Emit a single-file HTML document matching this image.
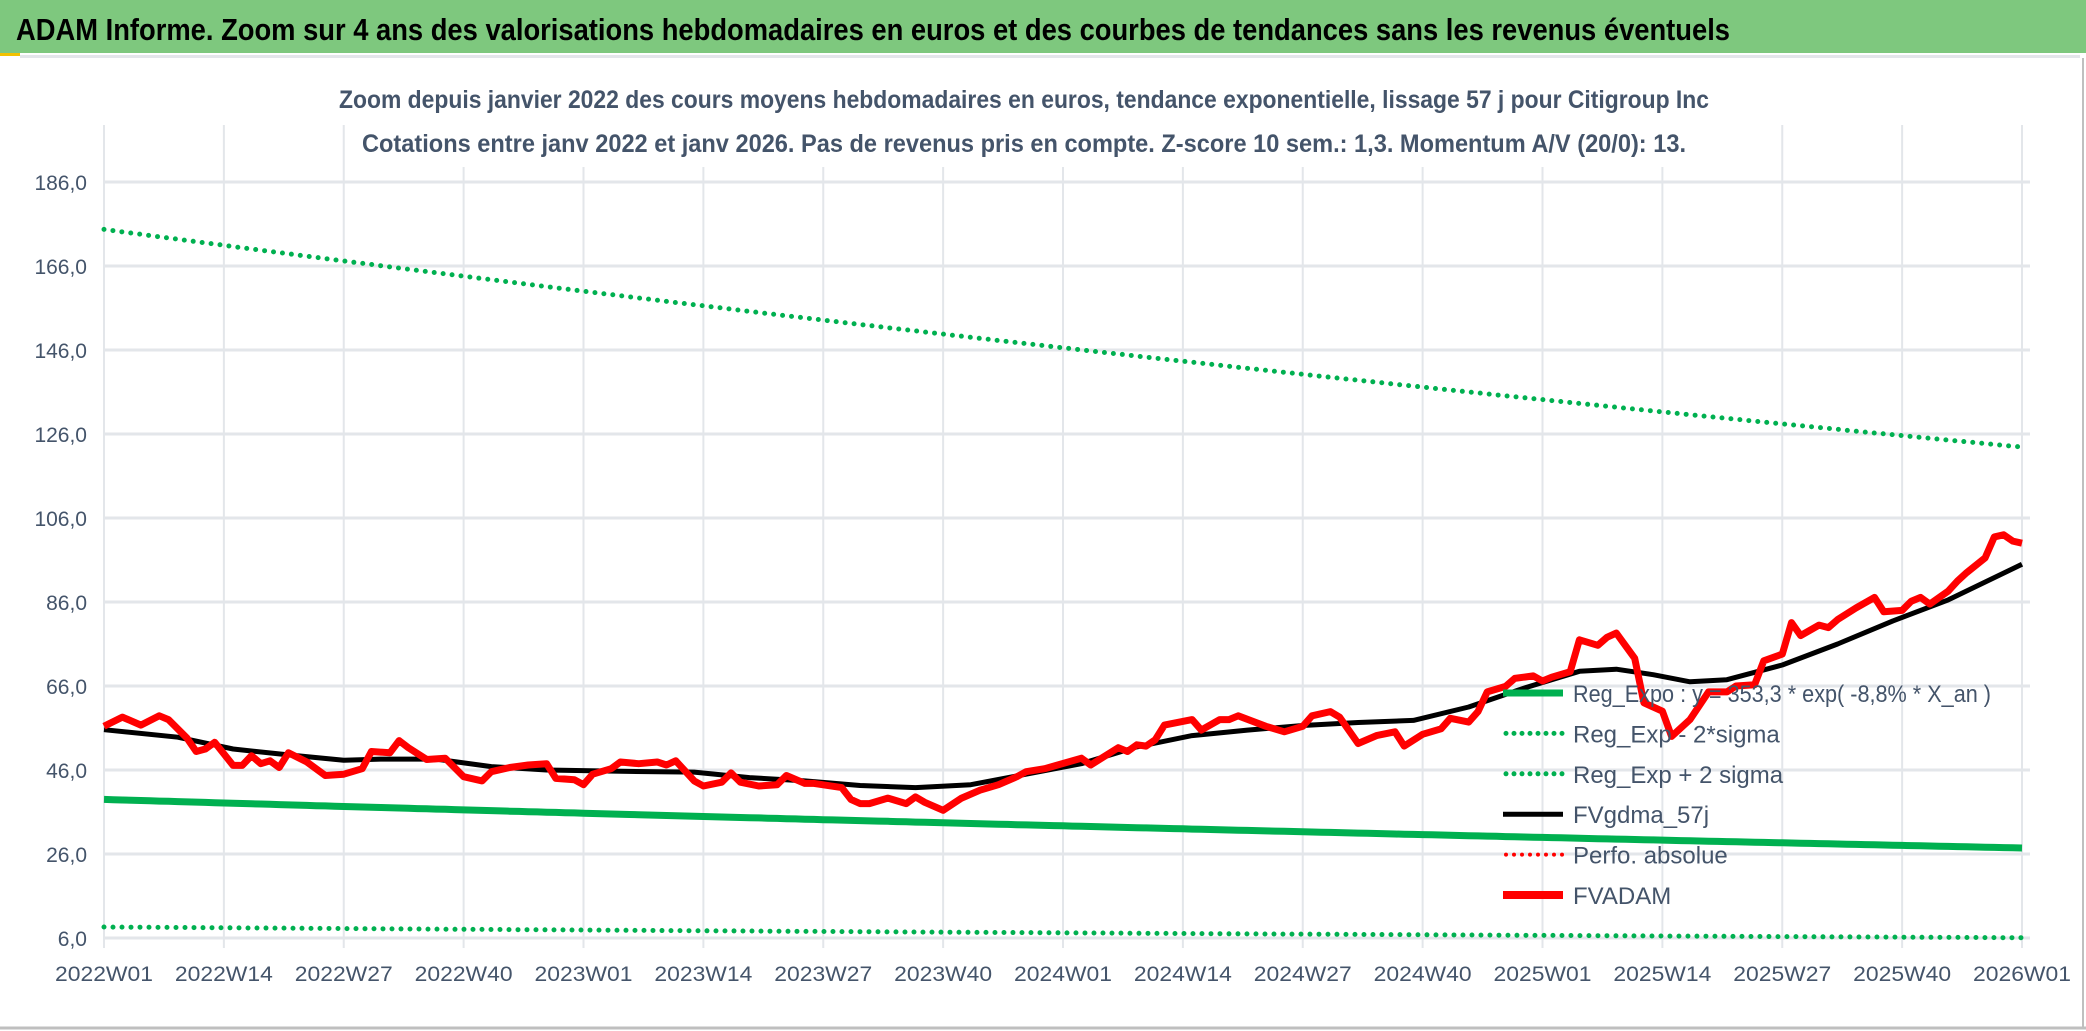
<!DOCTYPE html>
<html><head><meta charset="utf-8"><style>
html,body{margin:0;padding:0;background:#fff;}
svg{display:block;font-family:"Liberation Sans",sans-serif;}
</style></head><body>
<svg id="chart" width="2086" height="1031" viewBox="0 0 2086 1031" xmlns="http://www.w3.org/2000/svg">
<rect x="0" y="0" width="2086" height="1031" fill="#fff"/>
<rect x="0" y="0" width="2086" height="53" fill="#7ec87e"/>
<rect x="0" y="53" width="20" height="3" fill="#f2c100"/>
<rect x="20" y="55" width="2060" height="3" fill="#e3e6ea"/>
<line x1="2083" y1="58" x2="2083" y2="1028" stroke="#bfbfbf" stroke-width="2"/>
<line x1="0" y1="1028" x2="2086" y2="1028" stroke="#bfbfbf" stroke-width="3"/>
<text x="16" y="40" font-size="31" font-weight="bold" fill="#000" textLength="1714" lengthAdjust="spacingAndGlyphs">ADAM Informe. Zoom sur 4 ans des valorisations hebdomadaires en euros et des courbes de tendances sans les revenus éventuels</text>
<g id="grid"></g>
<rect x="335" y="78" width="1378" height="45" fill="#fff"/>
<rect x="358" y="120" width="1332" height="47" fill="#fff"/>
<text x="339" y="108" font-size="25" font-weight="bold" fill="#44546a" textLength="1370" lengthAdjust="spacingAndGlyphs">Zoom depuis janvier 2022 des cours moyens hebdomadaires en euros, tendance exponentielle, lissage 57 j pour Citigroup Inc</text>
<text x="362" y="152" font-size="25" font-weight="bold" fill="#44546a" textLength="1324" lengthAdjust="spacingAndGlyphs">Cotations entre janv 2022 et janv 2026. Pas de revenus pris en compte. Z-score 10 sem.: 1,3. Momentum A/V (20/0): 13.</text>
<g id="axes"></g>
<g id="series"></g>
<g id="legend"></g>
</svg>
<script>
const yTicks = [6,26,46,66,86,106,126,146,166,186];
const xLabels = ["2022W01","2022W14","2022W27","2022W40","2023W01","2023W14","2023W27","2023W40","2024W01","2024W14","2024W27","2024W40","2025W01","2025W14","2025W27","2025W40","2026W01"];
const regA = 39.0;
const regRate = -0.088;
const sigmaUp = 4.48;
const sigmaDn = 0.221;
const redWeeks = [0,2,4,6,7,9,10,11,12,14,15,16,17,18,19,20,22,24,26,28,29,31,32,33,35,37,39,41,42,44,46,48,49,51,52,53,55,56,58,60,61,62,64,65,67,68,69,71,73,74,76,77,80,81,82,83,85,87,88,89,91,93,95,97,99,100,102,106,107,110,111,112,113,114,115,118,119,121,122,123,126,128,130,131,133,134,136,138,140,141,143,145,146,148,149,150,152,153,155,156,157,159,160,162,163,164,166,167,169,170,172,174,176,177,179,180,182,183,184,186,187,188,190,192,193,195,196,197,198,200,201,202,204,205,206,207,208];
const redValues = [56.4,58.6,56.7,58.9,58.0,53.6,50.4,51.0,52.6,47.1,47.1,49.4,47.5,48.2,46.6,50.1,47.9,44.7,45.0,46.3,50.4,50.1,53.0,51.3,48.5,48.8,44.4,43.4,45.6,46.6,47.2,47.5,44.0,43.7,42.5,45.0,46.3,47.9,47.5,47.9,47.2,48.2,43.4,42.2,43.1,45.3,43.1,42.2,42.5,44.7,42.8,42.8,41.8,39.0,38.0,38.0,39.3,38.0,39.6,38.3,36.4,39.3,41.2,42.5,44.4,45.6,46.3,48.8,47.2,51.3,50.4,52.0,51.7,53.2,56.7,58.0,55.5,58.0,58.0,58.9,56.4,55.1,56.4,58.9,59.9,58.6,52.3,54.2,55.1,51.7,54.5,55.8,58.3,57.4,59.9,64.6,65.9,67.8,68.4,67.2,68.1,69.4,77.0,75.7,77.6,78.6,72.6,62.0,60.0,54.0,58.0,64.6,64.6,66.0,66.3,72.0,73.6,81.1,78.0,80.5,79.9,81.8,84.6,87.1,83.7,84.0,86.2,87.1,85.5,88.6,91.0,93.0,96.5,101.5,102.0,100.5,100.0];
const blackWeeks = [0,8,14,20,26,30,36,42,48,56,64,70,76,82,88,94,100,106,112,118,124,130,136,142,148,154,160,164,168,172,176,182,188,194,200,208];
const blackValues = [55.6,53.8,51.0,49.6,48.3,48.6,48.6,46.8,46.0,45.7,45.5,44.2,43.4,42.3,41.8,42.5,45.0,47.5,51.5,54.2,55.5,56.6,57.3,57.8,61.0,65.5,69.5,70.0,68.7,67.0,67.5,71.0,76.0,81.5,86.5,95.0];
const totalWeeks = 208;

const NS = "http://www.w3.org/2000/svg";
const X0 = 104, X1 = 2022, Y0 = 938, Y1 = 182;
function xs(w){ return X0 + (w/totalWeeks)*(X1-X0); }
function ys(v){ return Y0 - (v-6)/(186-6)*(Y0-Y1); }
function mk(tag, attrs, parent){ const e=document.createElementNS(NS,tag); for(const k in attrs) e.setAttribute(k,attrs[k]); parent.appendChild(e); return e; }

const grid = document.getElementById('grid');
const axes = document.getElementById('axes');
xLabels.forEach((lab,i)=>{
  const x = xs(i*13);
  const l = mk('line',{x1:x,y1:125,x2:x,y2:948,stroke:'#e3e6ea','stroke-width':2},grid);
  
  
  const t = mk('text',{x:x,y:981,'font-size':21,fill:'#44546a','text-anchor':'middle',textLength:98,lengthAdjust:'spacingAndGlyphs'},axes);
  t.textContent = lab;
  
  
});
yTicks.forEach(v=>{
  const y = ys(v);
  const l = mk('line',{x1:X0,y1:y,x2:2030,y2:y,stroke:'#e3e6ea','stroke-width':3},grid);
  
  
  const t = mk('text',{x:87,y:y+8,'font-size':21,fill:'#44546a','text-anchor':'end'},axes);
  t.textContent = v.toFixed(1).replace('.',',');
  
  
});

const series = document.getElementById('series');
function regVal(w,f){ return regA*f*Math.exp(regRate*w/52); }
function pathFrom(ws, vs){ return ws.map((w,i)=>(i?'L':'M')+xs(w).toFixed(1)+' '+ys(vs[i]).toFixed(1)).join(' '); }
const allW = []; for(let w=0; w<=totalWeeks; w++) allW.push(w);
const up = mk('path',{d:pathFrom(allW, allW.map(w=>regVal(w,sigmaUp))),fill:'none',stroke:'#00b050','stroke-width':5,'stroke-linecap':'round','stroke-dasharray':'0 9'},series);


const dn = mk('path',{d:pathFrom(allW, allW.map(w=>regVal(w,sigmaDn))),fill:'none',stroke:'#00b050','stroke-width':5,'stroke-linecap':'round','stroke-dasharray':'0 9'},series);


const reg = mk('path',{d:pathFrom(allW, allW.map(w=>regVal(w,1))),fill:'none',stroke:'#00b050','stroke-width':7},series);


const blk = mk('path',{d:pathFrom(blackWeeks, blackValues),fill:'none',stroke:'#000','stroke-width':5,'stroke-linejoin':'round'},series);


const red = mk('path',{d:pathFrom(redWeeks, redValues),fill:'none',stroke:'#ff0000','stroke-width':7,'stroke-linejoin':'round'},series);



const legend = document.getElementById('legend');
const legItems = [
  ["Reg_Expo : y = 353,3 * exp( -8,8% *  X_an )","#00b050","solid",7],
  ["Reg_Exp - 2*sigma","#00b050","dot",5],
  ["Reg_Exp + 2 sigma","#00b050","dot",5],
  ["FVgdma_57j","#000","solid",5],
  ["Perfo. absolue","#ff0000","dot",4],
  ["FVADAM","#ff0000","solid",8]
];
legItems.forEach((it,i)=>{
  const y = 693 + i*40.4;
  const a = {x1:1503,y1:y,x2:1563,y2:y,stroke:it[1],'stroke-width':it[3]};
  if(it[2]==='dot'){ a['stroke-dasharray']='0 8'; a['stroke-linecap']='round'; a.x1=1506; }
  const l = mk('line',a,legend);
  
  
  const t = mk('text',{x:1573,y:y+9,'font-size':24,fill:'#44546a'},legend);
  if(i===0){ t.setAttribute('textLength',418); t.setAttribute('lengthAdjust','spacingAndGlyphs'); }
  t.textContent = it[0];
  
  
});
</script>
</body></html>
